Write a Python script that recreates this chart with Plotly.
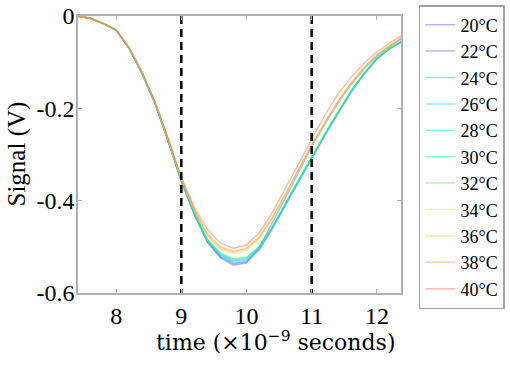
import plotly.graph_objects as go

# time grid (x 1e-9 s)
time = [7.4, 7.6, 7.8, 8.0, 8.2, 8.4, 8.6, 8.8, 9.0, 9.2, 9.4, 9.6, 9.8,
        10.0, 10.2, 10.4, 10.6, 10.8, 11.0, 11.2, 11.4, 11.6, 11.8, 12.0, 12.2, 12.4]

temps = ["20°C", "22°C", "24°C", "26°C", "28°C", "30°C", "32°C", "34°C", "36°C", "38°C", "40°C"]

sig_20 = [0, -0.005, -0.016, -0.031, -0.07, -0.125, -0.191, -0.272, -0.358, -0.43, -0.49, -0.524, -0.54,
          -0.535, -0.5, -0.448, -0.393, -0.338, -0.283, -0.234, -0.189, -0.149, -0.115, -0.087, -0.066, -0.048]
sig_22 = [0, -0.005, -0.016, -0.031, -0.07, -0.125, -0.191, -0.272, -0.358, -0.43, -0.489, -0.522, -0.537,
          -0.533, -0.506, -0.46, -0.409, -0.358, -0.307, -0.259, -0.212, -0.166, -0.126, -0.093, -0.07, -0.054]
sig_24 = [0, -0.005, -0.016, -0.031, -0.07, -0.125, -0.19, -0.271, -0.357, -0.429, -0.488, -0.52, -0.535,
          -0.531, -0.505, -0.459, -0.408, -0.358, -0.306, -0.258, -0.211, -0.165, -0.126, -0.093, -0.07, -0.054]
sig_26 = [0, -0.005, -0.016, -0.031, -0.07, -0.125, -0.19, -0.271, -0.357, -0.428, -0.487, -0.518, -0.532,
          -0.528, -0.503, -0.458, -0.407, -0.357, -0.306, -0.258, -0.211, -0.165, -0.125, -0.092, -0.07, -0.054]
sig_28 = [0, -0.005, -0.016, -0.031, -0.07, -0.125, -0.19, -0.27, -0.356, -0.427, -0.486, -0.516, -0.53,
          -0.526, -0.501, -0.457, -0.406, -0.356, -0.305, -0.257, -0.21, -0.164, -0.125, -0.092, -0.07, -0.054]
sig_30 = [0, -0.005, -0.016, -0.03, -0.07, -0.124, -0.19, -0.27, -0.355, -0.426, -0.485, -0.515, -0.528,
          -0.524, -0.5, -0.456, -0.406, -0.356, -0.305, -0.257, -0.21, -0.164, -0.125, -0.092, -0.07, -0.054]
sig_32 = [0, -0.005, -0.016, -0.03, -0.07, -0.124, -0.189, -0.269, -0.355, -0.425, -0.484, -0.513, -0.526,
          -0.522, -0.499, -0.455, -0.405, -0.355, -0.304, -0.256, -0.209, -0.163, -0.124, -0.091, -0.069, -0.053]
sig_34 = [0, -0.005, -0.016, -0.03, -0.069, -0.123, -0.188, -0.268, -0.353, -0.422, -0.476, -0.505, -0.515,
          -0.508, -0.482, -0.438, -0.388, -0.336, -0.281, -0.233, -0.188, -0.148, -0.114, -0.086, -0.065, -0.047]
sig_36 = [0, -0.005, -0.016, -0.03, -0.069, -0.123, -0.188, -0.268, -0.353, -0.421, -0.474, -0.503, -0.512,
          -0.505, -0.48, -0.437, -0.387, -0.335, -0.28, -0.232, -0.187, -0.147, -0.113, -0.085, -0.064, -0.046]
sig_38 = [0, -0.005, -0.016, -0.03, -0.069, -0.123, -0.188, -0.267, -0.352, -0.42, -0.472, -0.5, -0.51,
          -0.503, -0.478, -0.435, -0.385, -0.333, -0.279, -0.231, -0.186, -0.146, -0.112, -0.084, -0.063, -0.046]
sig_40 = [0, -0.005, -0.016, -0.03, -0.069, -0.122, -0.187, -0.266, -0.35, -0.415, -0.462, -0.492, -0.503,
          -0.496, -0.469, -0.425, -0.372, -0.32, -0.265, -0.215, -0.17, -0.133, -0.103, -0.078, -0.058, -0.041]

signals = [sig_20, sig_22, sig_24, sig_26, sig_28, sig_30, sig_32, sig_34, sig_36, sig_38, sig_40]

colors = ["rgb(90,90,255)", "rgb(70,120,255)", "rgb(60,160,255)", "rgb(40,200,255)", "rgb(0,225,255)",
          "rgb(0,230,170)", "rgb(90,230,90)", "rgb(200,235,70)", "rgb(255,200,60)", "rgb(255,150,70)",
          "rgb(255,105,80)"]

marker_times = [9, 11]
y_span = [0, -0.6]

x_range = [7.415, 12.37]
y_range = [-0.6, 0]
y_tickvals = [0, -0.2, -0.4, -0.6]
y_ticktext = ["0", "-0.2", "-0.4", "-0.6"]
x_tickvals = [8, 9, 10, 11, 12]
x_ticktext = ["8", "9", "10", "11", "12"]

x_title = "time (×10<sup>−9</sup> seconds)"
y_title = "Signal (V)"

FONT = "Liberation Serif, Times New Roman, serif"
FONT2 = "DejaVu Serif, serif"

fig = go.Figure()
for name, sig, col in zip(temps, signals, colors):
    fig.add_trace(go.Scatter(x=time, y=sig, mode="lines", name=name,
                             line=dict(color=col, width=1.5), opacity=0.45))

for t in marker_times:
    fig.add_trace(go.Scatter(x=[t, t], y=y_span, mode="lines", showlegend=False,
                             line=dict(color="black", width=2.5, dash="8px,5px"),
                             hoverinfo="skip"))

axis_common = dict(showline=True, linecolor="#b0b0b0", linewidth=1.5, mirror="allticks",
                   ticks="inside", ticklen=4, tickcolor="#b0b0b0", showgrid=False,
                   zeroline=False, automargin=False, ticklabeloverflow="allow",
                   tickfont=dict(family=FONT, size=24, color="black"))

fig.update_layout(
    width=510, height=366,
    margin=dict(l=78, r=109, t=16, b=73, autoexpand=False),
    paper_bgcolor="white", plot_bgcolor="white",
    font=dict(family=FONT, size=22, color="black"),
    xaxis=dict(range=x_range, tickvals=x_tickvals, ticktext=x_ticktext, **axis_common),
    yaxis=dict(range=y_range, tickvals=y_tickvals, ticktext=y_ticktext,
               ticklabelstandoff=-3, **axis_common),
    legend=dict(x=1.0557, y=1.0397, xanchor="left", yanchor="top", maxheight=400,
                bordercolor="#a0a0a0", borderwidth=1.5, bgcolor="white",
                font=dict(family=FONT, size=18, color="black"),
                itemwidth=30, tracegroupgap=0),
    showlegend=True,
    annotations=[
        dict(text=x_title, xref="paper", yref="paper", x=0.613, y=0, yshift=-48,
             xanchor="center", yanchor="middle", showarrow=False,
             font=dict(family=FONT2, size=22, color="black")),
        dict(text=y_title, xref="paper", yref="paper", x=0, y=0.5, xshift=-62,
             xanchor="center", yanchor="middle", textangle=-90, showarrow=False,
             font=dict(family=FONT, size=25, color="black")),
    ],
)

fig.write_html("out.html", config={"displayModeBar": False},
               post_script="document.body.style.margin='0';document.body.style.padding='0';")
